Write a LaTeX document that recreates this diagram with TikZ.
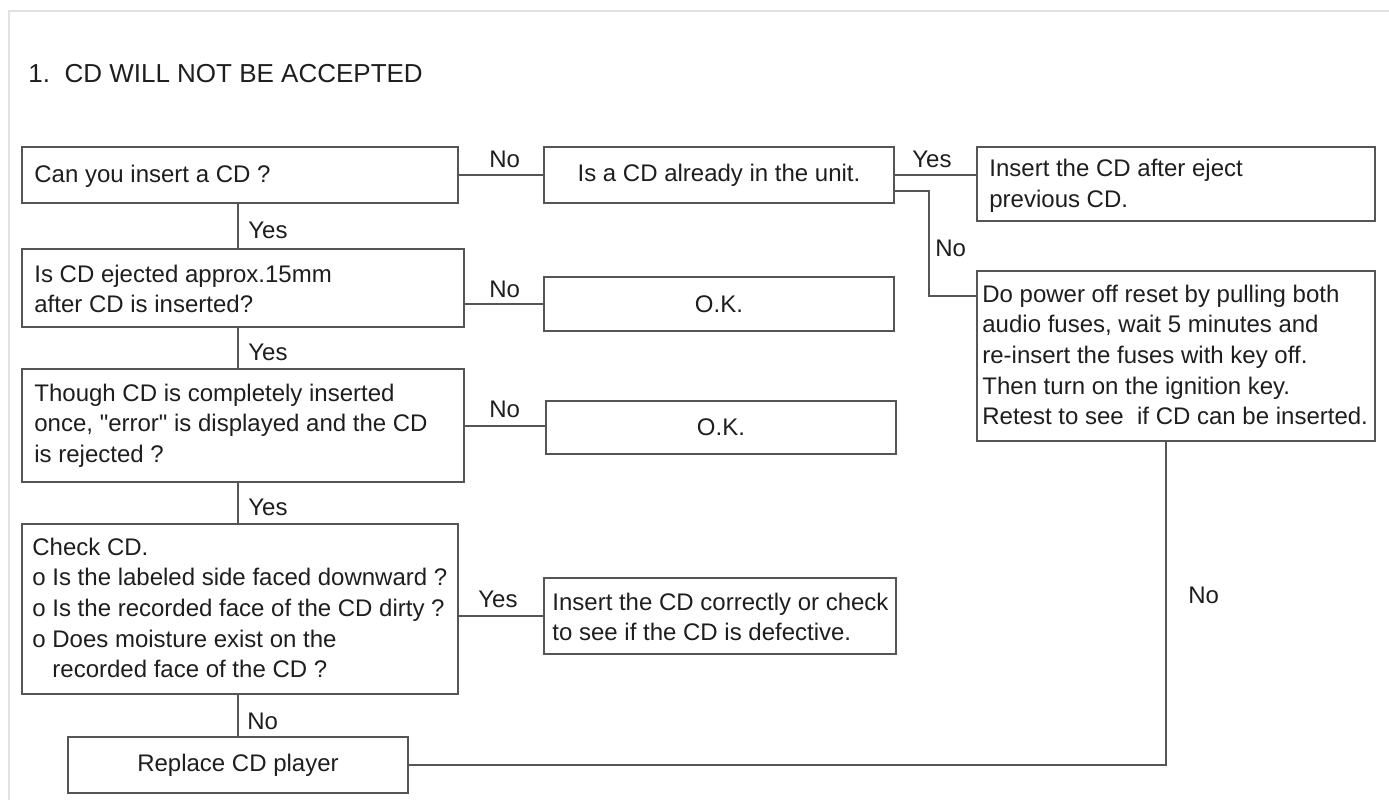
\documentclass[tikz,border=0pt]{standalone}
\usepackage{fontspec}
\setmainfont{Liberation Sans}[Ligatures=TeXOff]
\usetikzlibrary{calc}
\definecolor{inkline}{HTML}{555555}
\definecolor{inktext}{HTML}{1E1E1E}
\definecolor{framegray}{HTML}{E2E2E2}
\begin{document}
\begin{tikzpicture}[x=0.5pt,y=-0.5pt,
  font=\fontsize{12pt}{15.35pt}\selectfont,
  box/.style 2 args={draw=inkline,line width=1pt,text=inktext,anchor=north west,
    inner sep=0pt,minimum width=#1,minimum height=#2},
  txt/.style={anchor=west,align=left,inner sep=0pt,text=inktext},
  conn/.style={draw=inkline,line width=1pt},
  lbl/.style={anchor=base west,inner sep=0pt,text=inktext}]
\useasboundingbox (0,0) rectangle (1389,800);

% page frame
\draw[framegray,line width=1pt] (9,800) -- (9,11) -- (1389,11);

% heading
\node[lbl,font=\fontsize{13pt}{15pt}\selectfont] (title) at (28,82) {1.\ \ CD WILL NOT BE ACCEPTED};

% boxes
\node[box={218pt}{28pt}] (A) at (21,146) {};
\node[box={175pt}{28pt}] (B) at (543,146) {Is a CD already in the unit.};
\node[box={199pt}{37pt}] (C) at (976,146) {};
\node[box={199pt}{85pt}] (D) at (976,270) {};
\node[box={221pt}{39pt}] (E) at (21,248) {};
\node[box={175pt}{27pt}] (F) at (543,276) {O.K.};
\node[box={221pt}{56.5pt}] (G) at (21,368) {};
\node[box={175pt}{26.5pt}] (H) at (545,400) {O.K.};
\node[box={218pt}{85pt}] (I) at (21,523) {};
\node[box={176pt}{38pt}] (J) at (543,577) {};
\node[box={170pt}{28pt}] (K) at (67,736) {Replace CD player};

% left-aligned box texts
\node[txt] (At) at ($(A.west)+(13,1)$) {Can you insert a CD ?};
\node[txt] (Ct) at ($(C.west)+(13,2)$) {Insert the CD after eject\\previous CD.};
\node[txt] (Dt) at ($(D.west)+(6,-1)$)
  {Do power off reset by pulling both\\audio fuses, wait 5 minutes and\\re-insert the fuses with key off.\\Then turn on the ignition key.\\Retest to see~\ if CD can be inserted.};
\node[txt] (Et) at ($(E.west)+(13,1)$) {Is CD ejected approx.15mm\\after CD is inserted?};
\node[txt] (Gt) at ($(G.west)+(13,0)$)
  {Though CD is completely inserted\\once, "error" is displayed and the CD\\is rejected ?};
\node[txt] (It) at ($(I.west)+(11,-1)$)
  {Check CD.\\o Is the labeled side faced downward ?\\o Is the recorded face of the CD dirty ?\\o Does moisture exist on the\\\hphantom{o}\ recorded face of the CD ?};
\node[txt] (Jt) at ($(J.west)+(9,1)$)
  {Insert the CD correctly or check\\to see if the CD is defective.};

% connection points
\coordinate (bOut) at ($(B.south east)+(0,-13)$);
\coordinate (dIn) at ($(D.north west)+(0,26)$);
\coordinate (dOut) at ($(D.south west)+(190,0)$);

% connectors
\draw[conn] (A.east) -- (B.west);
\draw[conn] (B.east) -- (B.east -| C.west);
\draw[conn] (bOut) -- ++(34,0) |- (dIn);
\draw[conn] (dOut) |- (K.east);
\draw[conn] (A.south -| K.north) -- (E.north -| K.north);
\draw[conn] (E.south -| K.north) -- (G.north -| K.north);
\draw[conn] (G.south -| K.north) -- (I.north -| K.north);
\draw[conn] (I.south -| K.north) -- (K.north);
\draw[conn] (F.west -| E.east) -- (F.west);
\draw[conn] (G.east) -- (G.east -| H.west);
\draw[conn] (J.west -| I.east) -- (J.west);

% branch labels
\node[lbl] (lAB) at (489,167) {No};
\node[lbl] (lBC) at (912,167) {Yes};
\node[lbl] (lBD) at (935,256) {No};
\node[lbl] (lEF) at (489,297) {No};
\node[lbl] (lGH) at (489,417) {No};
\node[lbl] (lIJ) at (478,607) {Yes};
\node[lbl] (lAE) at (248,238) {Yes};
\node[lbl] (lEG) at (248,360) {Yes};
\node[lbl] (lGI) at (248,515) {Yes};
\node[lbl] (lIK) at (247,729) {No};
\node[lbl] (lDK) at (1188,603) {No};
\end{tikzpicture}
\end{document}
